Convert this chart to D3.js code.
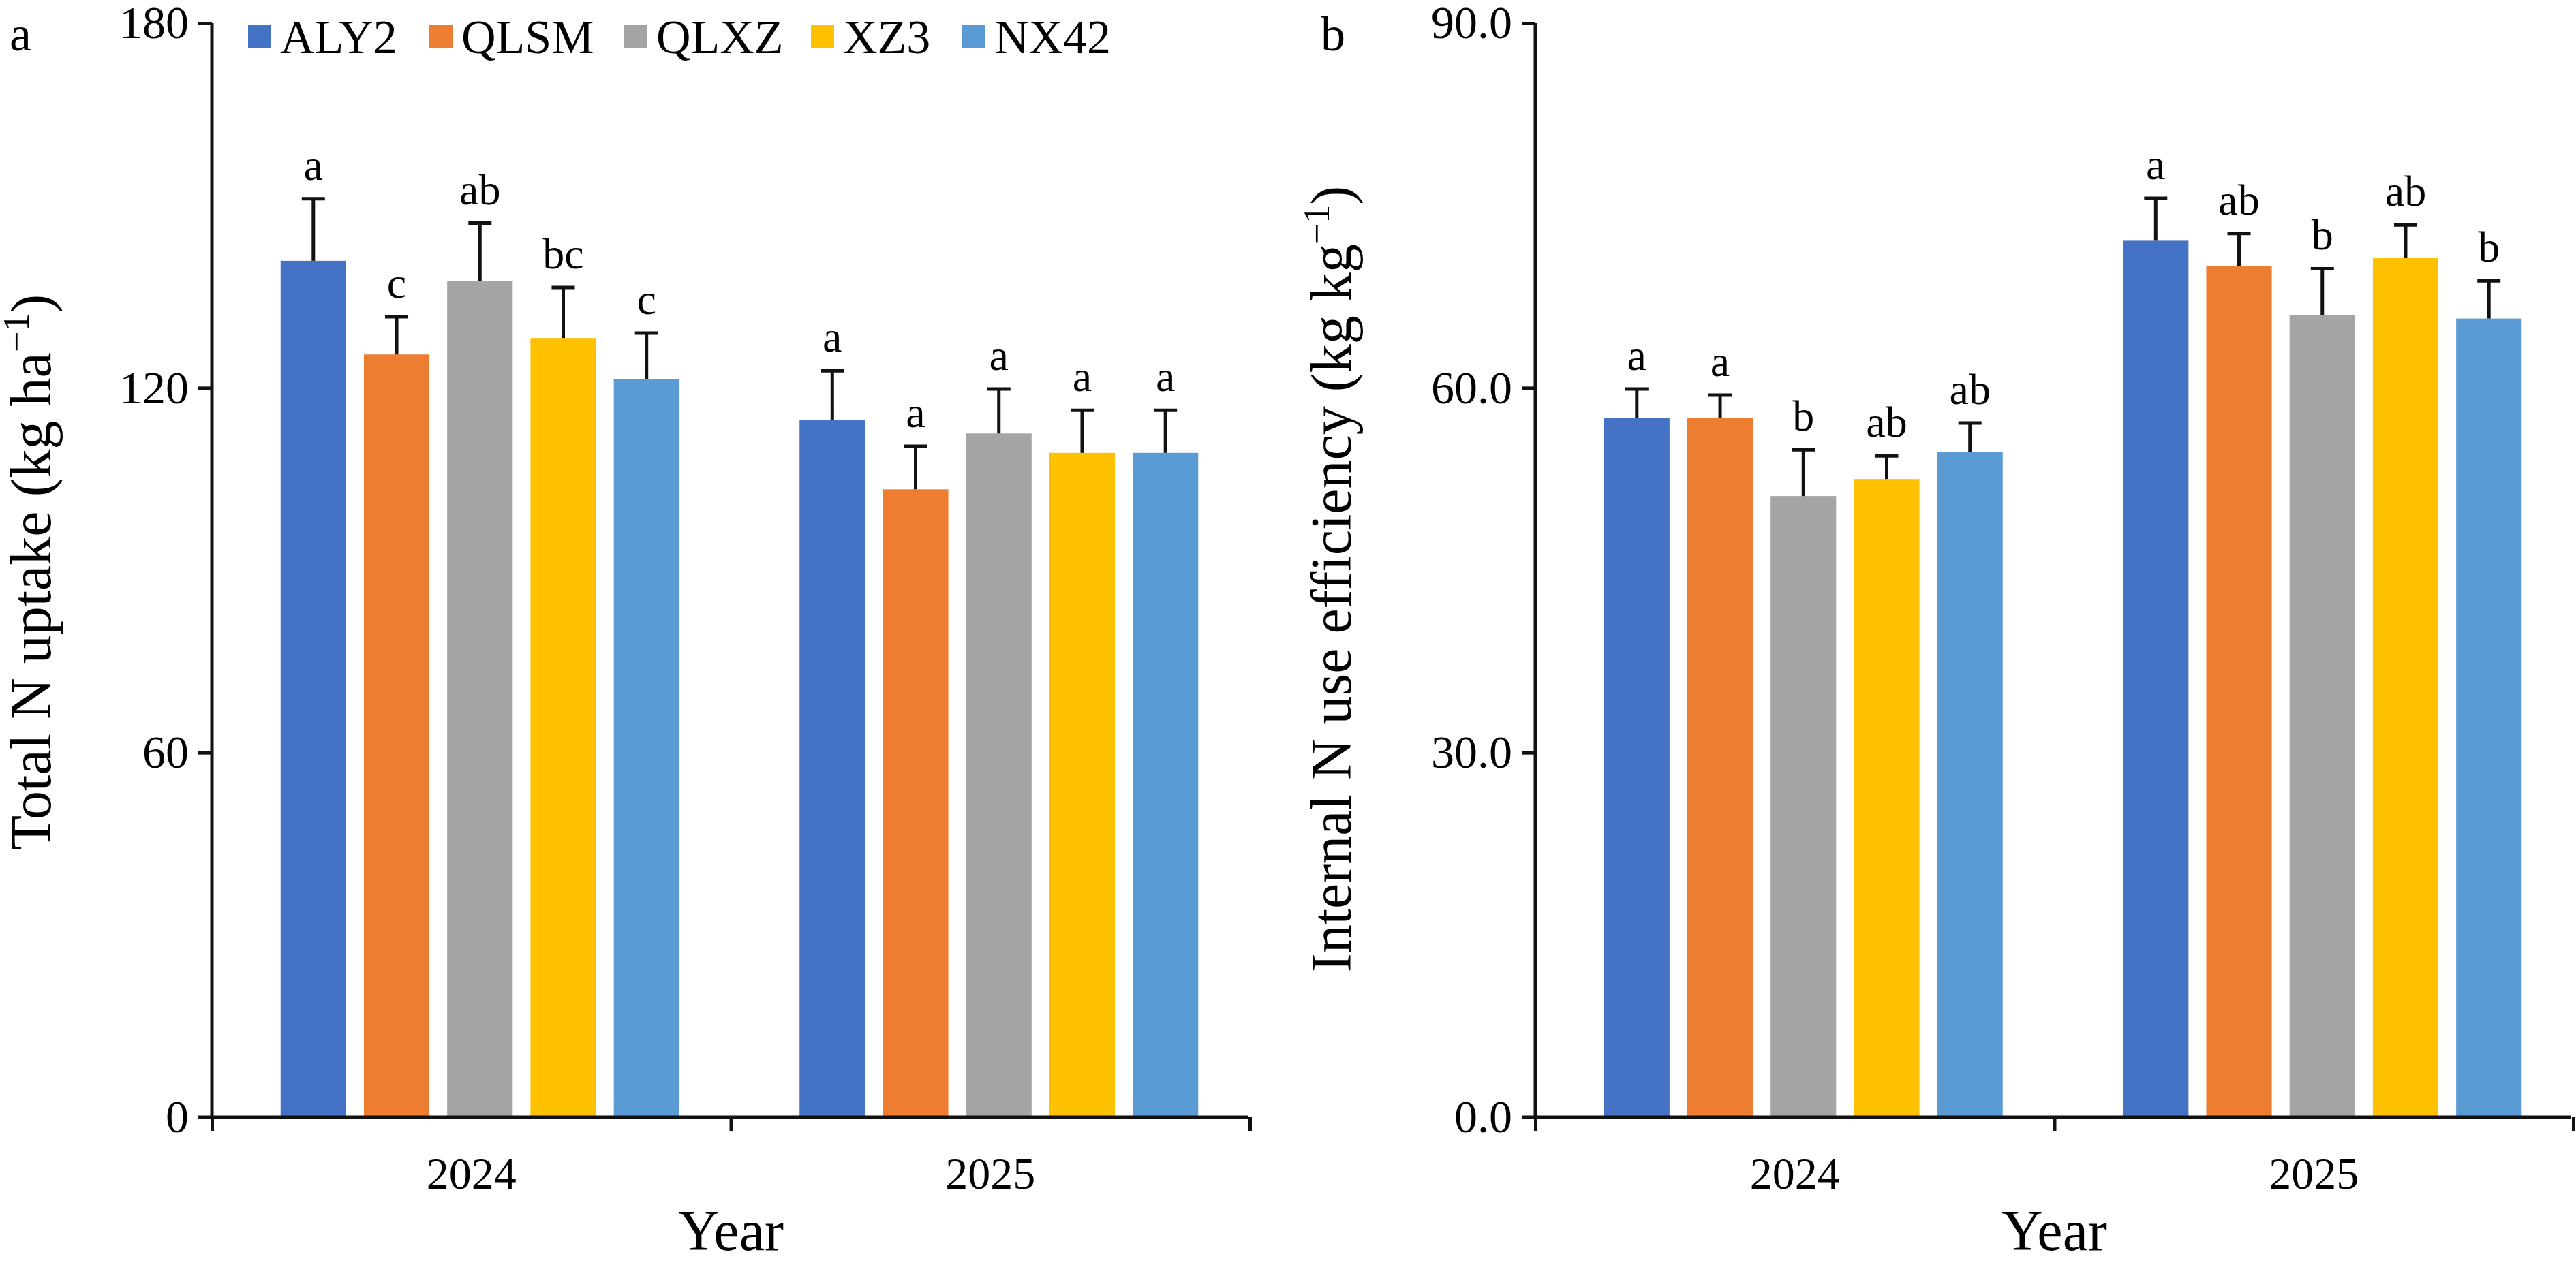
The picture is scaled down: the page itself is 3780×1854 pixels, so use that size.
<!DOCTYPE html>
<html>
<head>
<meta charset="utf-8">
<script src="https://cdn.jsdelivr.net/npm/d3@7"></script>
<style>
  body { margin: 0; background: #fff; }
  svg, svg text { font-family: "Liberation Serif", "Times New Roman", serif !important; }
  text { fill: #000; }
</style>
</head>
<body>
<svg id="chart" width="3780" height="1854"></svg>
<script>
// data
var years = ['2024', '2025'];
var cultivars = ['ALY2', 'QLSM', 'QLXZ', 'XZ3', 'NX42'];
var colors = ['#4472c4', '#ed7d31', '#a5a5a5', '#ffc000', '#5b9bd5'];

var uptake = [[140.9, 125.5, 137.6, 128.2, 121.4], [114.7, 103.3, 112.5, 109.3, 109.3]];
var uptakeErr = [[10.2, 6.2, 9.5, 8.3, 7.6], [8.1, 7.1, 7.3, 7.0, 7.0]];
var uptakeLetters = [['a', 'c', 'ab', 'bc', 'c'], ['a', 'a', 'a', 'a', 'a']];
var uptakeTicks = [0, 60, 120, 180];

var ine = [[57.5, 57.5, 51.1, 52.5, 54.7], [72.1, 70.0, 66.0, 70.7, 65.7]];
var ineErr = [[2.4, 1.9, 3.8, 1.9, 2.4], [3.5, 2.7, 3.8, 2.7, 3.1]];
var ineLetters = [['a', 'a', 'b', 'ab', 'ab'], ['a', 'ab', 'b', 'ab', 'b']];
var ineTicks = [0, 30, 60, 90];

var FONT = 'Liberation Serif';
var svg = d3.select('#chart').attr('font-family', FONT);
var top0 = 34, bottom0 = 1640, panelW = 1523;

function txt(parent) {
    return parent.append('text').attr('font-family', FONT).attr('fill', '#000');
}

function drawPanel(x0, label, values, errs, letters, ticks, fmt, title, showLegend) {
    var g = svg.append('g');
    var y = d3.scaleLinear().domain([0, ticks[ticks.length - 1]]).range([bottom0, top0]);
    var xg = d3.scaleBand().domain(years).range([x0, x0 + panelW]);
    var xb = d3.scaleBand().domain(cultivars).range([0, 5 * 117]).paddingInner(25 / 117).paddingOuter(0);
    var off = (xg.bandwidth() - 5 * 117 + 25) / 2;

    years.forEach(function(yr, i) {
        cultivars.forEach(function(c, j) {
            var bx = xg(yr) + off + xb(c);
            var v = values[i][j], e = errs[i][j];
            var cx = bx + xb.bandwidth() / 2;
            g.append('rect').attr('x', bx).attr('y', y(v))
                .attr('width', xb.bandwidth()).attr('height', bottom0 - y(v))
                .attr('fill', colors[j]);
            g.append('line').attr('x1', cx).attr('x2', cx).attr('y1', y(v)).attr('y2', y(v + e))
                .attr('stroke', '#111').attr('stroke-width', 5);
            g.append('line').attr('x1', cx - 17).attr('x2', cx + 17).attr('y1', y(v + e)).attr('y2', y(v + e))
                .attr('stroke', '#111').attr('stroke-width', 5);
            txt(g).attr('x', cx).attr('y', y(v + e) - 28)
                .attr('text-anchor', 'middle').attr('font-size', 64).text(letters[i][j]);
        });
    });

    // axes
    var yAxis = d3.axisLeft(y).tickValues(ticks).tickSize(20).tickPadding(14).tickFormat(fmt);
    var ya = g.append('g').attr('transform', 'translate(' + x0 + ',0)').call(yAxis).attr('font-family', FONT);
    ya.select('.domain').attr('stroke', '#111').attr('stroke-width', 5).attr('d', 'M0,' + top0 + 'V' + bottom0);
    ya.selectAll('.tick line').attr('stroke', '#111').attr('stroke-width', 5);
    ya.selectAll('.tick text').attr('font-size', 68).attr('font-family', FONT).attr('fill', '#000');

    var xAxis = d3.axisBottom(d3.scaleLinear().domain([0, 2]).range([x0, x0 + panelW]))
        .tickValues([0, 1, 2]).tickSize(20).tickFormat('');
    var xa = g.append('g').attr('transform', 'translate(0,' + bottom0 + ')').call(xAxis);
    xa.select('.domain').attr('stroke', '#111').attr('stroke-width', 5).attr('d', 'M' + (x0 - 20) + ',0H' + (x0 + panelW - 3));
    xa.selectAll('.tick line').attr('stroke', '#111').attr('stroke-width', 5);

    years.forEach(function(yr) {
        txt(g).attr('x', xg(yr) + xg.bandwidth() / 2).attr('y', bottom0 + 105)
            .attr('text-anchor', 'middle').attr('font-size', 66).text(yr);
    });
    txt(g).attr('x', x0 + panelW / 2).attr('y', bottom0 + 195)
        .attr('text-anchor', 'middle').attr('font-size', 84).text('Year');

    var t = txt(g).attr('transform', 'translate(' + title.x + ',' + title.y + ') rotate(-90)')
        .attr('text-anchor', 'middle').attr('font-size', 84);
    t.append('tspan').text(title.main);
    t.append('tspan').attr('font-size', 54).attr('dy', -32).text('\u22121');
    t.append('tspan').attr('dy', 32).text(')');

    txt(g).attr('x', label.x).attr('y', 74).attr('font-size', 72).text(label.t);

    if (showLegend) {
        var lx = [364, 630, 916, 1190, 1412];
        cultivars.forEach(function(c, j) {
            g.append('rect').attr('x', lx[j]).attr('y', 37).attr('width', 34).attr('height', 34).attr('fill', colors[j]);
            txt(g).attr('x', lx[j] + 47).attr('y', 78).attr('font-size', 70).text(c);
        });
    }
}

drawPanel(311, { x: 14, t: 'a' }, uptake, uptakeErr, uptakeLetters, uptakeTicks, d3.format('d'),
    { x: 74, y: 840, main: 'Total N uptake (kg ha' }, true);
drawPanel(2253, { x: 1938, t: 'b' }, ine, ineErr, ineLetters, ineTicks, d3.format('.1f'),
    { x: 1982, y: 850, main: 'Internal N use efficiency (kg kg' }, false);
</script>
</body>
</html>
